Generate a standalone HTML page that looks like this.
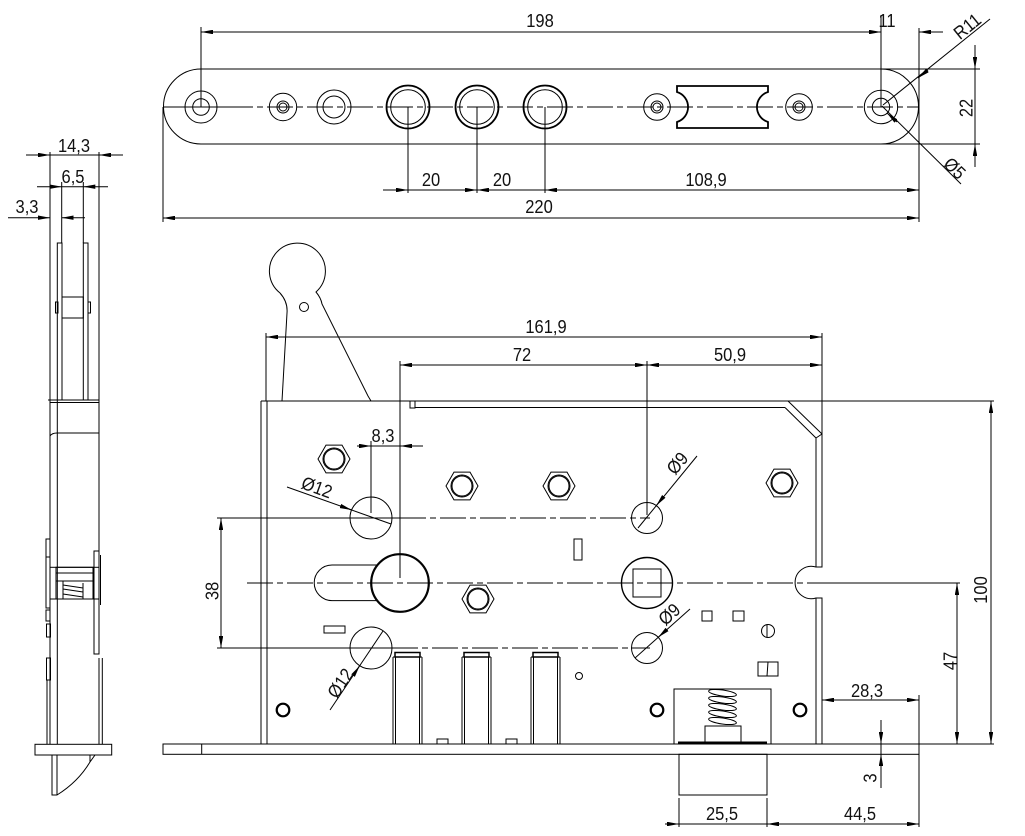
<!DOCTYPE html>
<html><head><meta charset="utf-8"><style>
html,body{margin:0;padding:0;background:#fff;}
svg{display:block;}
.l{stroke:#000;stroke-width:1;fill:none;}
.k{stroke:#000;stroke-width:1.8;fill:none;}
.c{stroke:#000;stroke-width:1;fill:none;stroke-dasharray:26 4 6 4;}
text{font-family:"Liberation Sans",sans-serif;font-size:16.5px;fill:#111;text-anchor:middle;}
</style></head><body>
<svg width="1025" height="836" viewBox="0 0 1025 836" xmlns="http://www.w3.org/2000/svg">
<defs>
<marker id="a" viewBox="0 0 12 4.4" refX="12" refY="2.2" markerWidth="12" markerHeight="4.4" markerUnits="userSpaceOnUse" orient="auto-start-reverse"><path d="M0,0L12,2.2L0,4.4z" fill="#000"/></marker>
</defs>

<!-- ================= TOP PLATE ================= -->
<g class="l">
<path d="M201,69 L881,69 A37.5,37.5 0 0 1 881,144 L201,144 A37.5,37.5 0 0 1 201,69Z"/>
<line x1="881" y1="69" x2="980" y2="69"/>
<line x1="881" y1="144" x2="980" y2="144"/>
<circle cx="201" cy="107" r="16"/><circle cx="201" cy="107" r="8.3"/>
<circle cx="283" cy="107" r="13.7"/><circle cx="283" cy="107" r="6"/><circle cx="283" cy="107" r="4"/>
<circle cx="334" cy="107" r="17"/><circle cx="334" cy="107" r="11"/>
<circle cx="657" cy="107" r="13.3"/><circle cx="657" cy="107" r="6"/><circle cx="657" cy="107" r="4"/>
<circle cx="799" cy="107" r="13.3"/><circle cx="799" cy="107" r="6"/><circle cx="799" cy="107" r="4"/>
<circle cx="881" cy="107" r="16.7"/><circle cx="881" cy="107" r="8.7"/>
<circle cx="408" cy="107" r="17.3"/><circle cx="477" cy="107" r="17.3"/><circle cx="545" cy="107" r="17.3"/>
</g>
<g class="k" stroke-width="2.2">
<circle cx="408" cy="107" r="21.5"/><circle cx="477" cy="107" r="21.5"/><circle cx="545" cy="107" r="21.5"/>
<path d="M677,86 L768,86 L768,92 A15.7,15.7 0 0 0 768,122 L768,128 L677,128 L677,122 A15.7,15.7 0 0 0 677,92 Z"/>
</g>
<line x1="163" y1="107" x2="227" y2="107" class="l"/>
<line x1="227" y1="107" x2="919" y2="107" class="c"/>

<!-- top plate dimensions -->
<g class="l">
<line x1="201" y1="27" x2="201" y2="107"/>
<line x1="881" y1="15" x2="881" y2="107"/>
<line x1="919" y1="28" x2="919" y2="222"/>
<line x1="163" y1="107" x2="163" y2="222"/>
<line x1="201" y1="32" x2="881" y2="32" marker-start="url(#a)" marker-end="url(#a)"/>
<line x1="943" y1="32" x2="919" y2="32" marker-end="url(#a)"/>
<line x1="408" y1="107" x2="408" y2="193"/>
<line x1="477" y1="107" x2="477" y2="193"/>
<line x1="545" y1="107" x2="545" y2="193"/>
<line x1="383" y1="190" x2="408" y2="190" marker-end="url(#a)"/>
<line x1="408" y1="190" x2="477" y2="190" marker-end="url(#a)"/>
<line x1="545" y1="190" x2="477" y2="190" marker-end="url(#a)"/>
<line x1="919" y1="190" x2="545" y2="190" marker-end="url(#a)"/>
<line x1="700" y1="190" x2="919" y2="190" marker-end="url(#a)"/>
<line x1="163" y1="218" x2="919" y2="218" marker-start="url(#a)" marker-end="url(#a)"/>
<line x1="975" y1="45" x2="975" y2="69" marker-end="url(#a)"/>
<line x1="975" y1="167" x2="975" y2="144" marker-end="url(#a)"/>
<line x1="975" y1="69" x2="975" y2="144"/>
<line x1="990" y1="19" x2="883" y2="105"/>
<line x1="928" y1="70" x2="918" y2="78" marker-end="url(#a)"/>
<line x1="882" y1="106" x2="961" y2="184"/>
<line x1="897" y1="122" x2="887" y2="113" marker-end="url(#a)"/>
</g>
<text transform="translate(540,27) scale(1,1.12)">198</text>
<text transform="translate(887,27) scale(1,1.12)">11</text>
<text transform="translate(431,186) scale(1,1.12)">20</text>
<text transform="translate(502,186) scale(1,1.12)">20</text>
<text transform="translate(706,186) scale(1,1.12)">108,9</text>
<text transform="translate(539,213) scale(1,1.12)">220</text>
<text transform="translate(967,26) rotate(-39) scale(1,1.12)" y="6">R11</text>
<text transform="translate(955,168) rotate(44) scale(1,1.12)" y="6">Ø5</text>
<text transform="translate(966,108) rotate(-90) scale(1,1.12)" y="6">22</text>

<!-- ================= SIDE VIEW ================= -->
<g class="l">
<line x1="50" y1="152" x2="50" y2="744"/>
<line x1="99" y1="152" x2="99" y2="551"/>
<line x1="61.7" y1="182" x2="61.7" y2="243"/>
<line x1="83.3" y1="182" x2="83.3" y2="243"/>
<line x1="26" y1="155" x2="50" y2="155" marker-end="url(#a)"/>
<line x1="50" y1="155" x2="99" y2="155"/>
<line x1="123" y1="155" x2="99" y2="155" marker-end="url(#a)"/>
<line x1="37" y1="186.7" x2="61.7" y2="186.7" marker-end="url(#a)"/>
<line x1="61.7" y1="186.7" x2="83.3" y2="186.7"/>
<line x1="108" y1="186.7" x2="83.3" y2="186.7" marker-end="url(#a)"/>
<line x1="8" y1="217.7" x2="50" y2="217.7" marker-end="url(#a)"/>
<line x1="85" y1="217.7" x2="61.7" y2="217.7" marker-end="url(#a)"/>
<rect x="57.3" y="243" width="4.7" height="157"/>
<rect x="83.3" y="243" width="4.7" height="157"/>
<rect x="62" y="297" width="21.3" height="21"/>
<rect x="55.5" y="302" width="2.5" height="11"/>
<rect x="88" y="302" width="2.5" height="11"/>
<line x1="48" y1="400" x2="99" y2="400"/>
<line x1="50" y1="402.5" x2="99" y2="402.5"/>
<path d="M50,436 Q52,433 57,433 L99,433"/>
<line x1="57.3" y1="400" x2="57.3" y2="744"/>
<rect x="46" y="539" width="4" height="18"/>
<rect x="46" y="557" width="4" height="51"/>
<rect x="46" y="610" width="4" height="11"/>
<rect x="46.5" y="624" width="4" height="13"/>
<rect x="46.5" y="658" width="4" height="22"/>
<line x1="47" y1="680" x2="47" y2="744"/>
<rect x="94" y="551" width="5" height="103"/>
<line x1="100.5" y1="555" x2="100.5" y2="605"/>
<line x1="99" y1="658" x2="99" y2="744"/>
<line x1="102.3" y1="658" x2="102.3" y2="744"/>
<rect x="50" y="567.3" width="49" height="31.7"/>
<rect x="56" y="567.3" width="37" height="31.7"/>
<line x1="56" y1="573" x2="93" y2="573"/>
<line x1="56" y1="581" x2="93" y2="581"/>
<line x1="63" y1="581" x2="63" y2="599"/>
<line x1="83" y1="583" x2="83" y2="599"/>
<line x1="63" y1="585" x2="83" y2="588"/>
<line x1="63" y1="589" x2="83" y2="592"/>
<line x1="63" y1="594" x2="83" y2="597"/>
<rect x="35" y="744.3" width="76.7" height="10.7"/>
<path d="M52,755 L52,795 L57,795 Q78,782 90,762 L95,755"/>
<line x1="57" y1="755" x2="57" y2="795"/>
<line x1="90" y1="755" x2="90" y2="762"/>
</g>
<text transform="translate(74,152) scale(1,1.12)">14,3</text>
<text transform="translate(73,183) scale(1,1.12)">6,5</text>
<text transform="translate(27,213) scale(1,1.12)">3,3</text>

<!-- ================= MAIN VIEW ================= -->
<g class="l">
<!-- lever -->
<path d="M282,401 L287,313 Q288,302 280,293 A28,28 0 1 1 316,292 Q321,298 322,304 L368,396 L371,401"/>
<circle cx="304" cy="307" r="4.5"/>
<!-- body -->
<line x1="261" y1="401" x2="994" y2="401"/>
<line x1="261" y1="401" x2="261" y2="744"/>
<line x1="267" y1="401" x2="267" y2="744"/>
<rect x="410" y="401" width="5" height="7"/>
<line x1="415" y1="407.5" x2="785" y2="407.5"/>
<line x1="788" y1="401" x2="822" y2="434"/>
<line x1="785" y1="407.5" x2="816" y2="438"/>
<line x1="816" y1="438" x2="822" y2="434"/>
<path d="M822,434 L822,567 L816,567 A16.2,16.2 0 1 0 816,598 L822,598 L822,744"/>
<line x1="816" y1="438" x2="816" y2="567"/>
<line x1="816" y1="598" x2="816" y2="744"/>
<!-- faceplate -->
<rect x="163" y="744" width="756" height="10.3"/>
<line x1="201.7" y1="744" x2="201.7" y2="754"/>
<line x1="919" y1="744" x2="994" y2="744"/>
<rect x="679" y="754.3" width="88" height="40.7"/>
<!-- hex nuts -->
<path d="M350,459 L342,472.9 L326,472.9 L318,459 L326,445.1 L342,445.1Z"/>
<path d="M478,486 L470,499.9 L454,499.9 L446,486 L454,472.1 L470,472.1Z"/>
<path d="M575,486 L567,499.9 L551,499.9 L543,486 L551,472.1 L567,472.1Z"/>
<path d="M798,483 L790,496.9 L774,496.9 L766,483 L774,469.1 L790,469.1Z"/>
<path d="M494,599 L486,612.9 L470,612.9 L462,599 L470,585.1 L486,585.1Z"/>
<circle cx="334" cy="459" r="11"/><circle cx="334" cy="459" r="10"/>
<circle cx="462" cy="486" r="11"/><circle cx="462" cy="486" r="10"/>
<circle cx="559" cy="486" r="11"/><circle cx="559" cy="486" r="10"/>
<circle cx="782" cy="483" r="11"/><circle cx="782" cy="483" r="10"/>
<circle cx="478" cy="599" r="11"/><circle cx="478" cy="599" r="10"/>
<!-- holes -->
<circle cx="371" cy="518" r="21"/>
<circle cx="371" cy="648" r="21"/>
<circle cx="647" cy="518" r="15.5"/>
<circle cx="647" cy="648" r="15.5"/>
<circle cx="400" cy="583" r="28.2"/>
<path d="M377,565 L332,565 A17.8,17.8 0 0 0 332,600.6 L377,600.6"/>
<circle cx="647" cy="583" r="25.5" stroke-width="1.4"/>
<rect x="633" y="569" width="28" height="28"/>
<rect x="324" y="626" width="21" height="7"/>
<rect x="574" y="539" width="8" height="21"/>
<rect x="702" y="611" width="10" height="10"/>
<rect x="733" y="611" width="11" height="10"/>
<circle cx="768" cy="631" r="6.5"/>
<line x1="767" y1="625" x2="767" y2="637"/>
<rect x="758" y="662" width="20" height="14"/>
<line x1="768" y1="662" x2="767" y2="676"/>
<circle cx="579" cy="676" r="3.5"/>
<!-- spring box -->
<rect x="674" y="689" width="97" height="55"/>
<rect x="705" y="726" width="36" height="18"/>
<ellipse cx="722.5" cy="693" rx="14" ry="3" transform="rotate(8 722.5 693)"/>
<ellipse cx="722.5" cy="700" rx="14" ry="3" transform="rotate(8 722.5 700)"/>
<ellipse cx="722.5" cy="707" rx="14" ry="3" transform="rotate(8 722.5 707)"/>
<ellipse cx="722.5" cy="714" rx="14" ry="3" transform="rotate(8 722.5 714)"/>
<ellipse cx="722.5" cy="721" rx="14" ry="3" transform="rotate(8 722.5 721)"/>
<!-- bolts -->
<line x1="393" y1="657" x2="393" y2="744"/><line x1="395.5" y1="657" x2="395.5" y2="744"/>
<line x1="422" y1="657" x2="422" y2="744"/><line x1="419.5" y1="657" x2="419.5" y2="744"/>
<line x1="462" y1="657" x2="462" y2="744"/><line x1="464.5" y1="657" x2="464.5" y2="744"/>
<line x1="491" y1="657" x2="491" y2="744"/><line x1="488.5" y1="657" x2="488.5" y2="744"/>
<line x1="531" y1="657" x2="531" y2="744"/><line x1="533.5" y1="657" x2="533.5" y2="744"/>
<line x1="560" y1="657" x2="560" y2="744"/><line x1="557.5" y1="657" x2="557.5" y2="744"/>
<line x1="393" y1="657" x2="422" y2="657"/><line x1="462" y1="657" x2="491" y2="657"/><line x1="531" y1="657" x2="560" y2="657"/>
<rect x="437" y="739" width="11" height="5"/>
<rect x="506" y="739" width="11" height="5"/>
</g>
<g class="k">
<circle cx="400" cy="583" r="29.2" stroke-width="1.4"/>
<rect x="395" y="652.5" width="25" height="4.5" stroke-width="1.5"/>
<rect x="464" y="652.5" width="25" height="4.5" stroke-width="1.5"/>
<rect x="533" y="652.5" width="25" height="4.5" stroke-width="1.5"/>
<circle cx="283" cy="710" r="6.3" stroke-width="2.2"/>
<circle cx="657" cy="710" r="6.3" stroke-width="2.2"/>
<circle cx="800" cy="710" r="6.3" stroke-width="2.2"/>
<line x1="678" y1="742.5" x2="767" y2="742.5" stroke-width="2"/>
</g>

<!-- centerlines -->
<line x1="217" y1="518" x2="400" y2="518" class="l"/>
<line x1="400" y1="518" x2="650" y2="518" class="c"/>
<line x1="217" y1="648" x2="392" y2="648" class="l"/>
<line x1="392" y1="648" x2="650" y2="648" class="c"/>
<line x1="247" y1="583" x2="822" y2="583" class="c"/>
<line x1="822" y1="583" x2="960" y2="583" class="l"/>

<!-- main dims -->
<g class="l">
<line x1="266" y1="333" x2="266" y2="401"/>
<line x1="822" y1="333" x2="822" y2="434"/>
<line x1="266" y1="337" x2="822" y2="337" marker-start="url(#a)" marker-end="url(#a)"/>
<line x1="400" y1="361" x2="400" y2="578"/>
<line x1="647" y1="361" x2="647" y2="515"/>
<line x1="400" y1="365" x2="647" y2="365" marker-start="url(#a)" marker-end="url(#a)"/>
<line x1="822" y1="365" x2="647" y2="365" marker-start="url(#a)" marker-end="url(#a)"/>
<line x1="371" y1="441" x2="371" y2="513"/>
<line x1="357" y1="446" x2="371" y2="446" marker-end="url(#a)"/>
<line x1="371" y1="446" x2="400" y2="446"/>
<line x1="423" y1="446" x2="400" y2="446" marker-end="url(#a)"/>
<line x1="221" y1="518" x2="221" y2="648" marker-start="url(#a)" marker-end="url(#a)"/>
<line x1="991" y1="401" x2="991" y2="744" marker-start="url(#a)" marker-end="url(#a)"/>
<line x1="957" y1="583" x2="957" y2="744" marker-start="url(#a)" marker-end="url(#a)"/>
<line x1="919" y1="695" x2="919" y2="744"/>
<line x1="822" y1="700" x2="919" y2="700" marker-start="url(#a)" marker-end="url(#a)"/>
<line x1="881" y1="720" x2="881" y2="744" marker-end="url(#a)"/>
<line x1="881" y1="788" x2="881" y2="754" marker-end="url(#a)"/>
<line x1="881" y1="744" x2="881" y2="754"/>
<line x1="679" y1="798" x2="679" y2="827"/>
<line x1="767" y1="798" x2="767" y2="827"/>
<line x1="919" y1="754" x2="919" y2="827"/>
<line x1="665" y1="824" x2="679" y2="824" marker-end="url(#a)"/>
<line x1="679" y1="824" x2="767" y2="824"/>
<line x1="919" y1="824" x2="767" y2="824" marker-end="url(#a)"/>
<line x1="767" y1="824" x2="919" y2="824" marker-end="url(#a)"/>
<!-- leaders -->
<line x1="287" y1="487" x2="391" y2="524"/>
<line x1="340.4" y1="506" x2="351.7" y2="510" marker-end="url(#a)"/>
<line x1="330" y1="710" x2="383" y2="631"/>
<line x1="353" y1="675.7" x2="359.7" y2="665.7" marker-end="url(#a)"/>
<line x1="697" y1="456" x2="638" y2="528"/>
<line x1="663.8" y1="496.4" x2="656.2" y2="505.7" marker-end="url(#a)"/>
<line x1="690" y1="609" x2="635" y2="658"/>
<line x1="665.5" y1="630.8" x2="658.1" y2="637.4" marker-end="url(#a)"/>
</g>
<text transform="translate(546,333) scale(1,1.12)">161,9</text>
<text transform="translate(522,361) scale(1,1.12)">72</text>
<text transform="translate(730,361) scale(1,1.12)">50,9</text>
<text transform="translate(383,442) scale(1,1.12)">8,3</text>
<text transform="translate(867,697) scale(1,1.12)">28,3</text>
<text transform="translate(722,820) scale(1,1.12)">25,5</text>
<text transform="translate(860,820) scale(1,1.12)">44,5</text>
<text transform="translate(317,487) rotate(20) scale(1,1.12)" y="6">Ø12</text>
<text transform="translate(340,683) rotate(-56) scale(1,1.12)" y="6">Ø12</text>
<text transform="translate(677,463) rotate(-50) scale(1,1.12)" y="6">Ø9</text>
<text transform="translate(669,614) rotate(-42) scale(1,1.12)" y="6">Ø9</text>
<text transform="translate(212,591) rotate(-90) scale(1,1.12)" y="6">38</text>
<text transform="translate(980.5,590) rotate(-90) scale(1,1.12)" y="6">100</text>
<text transform="translate(950,661) rotate(-90) scale(1,1.12)" y="6">47</text>
<text transform="translate(870,778) rotate(-90) scale(1,1.12)" y="6">3</text>
</svg>
</body></html>
